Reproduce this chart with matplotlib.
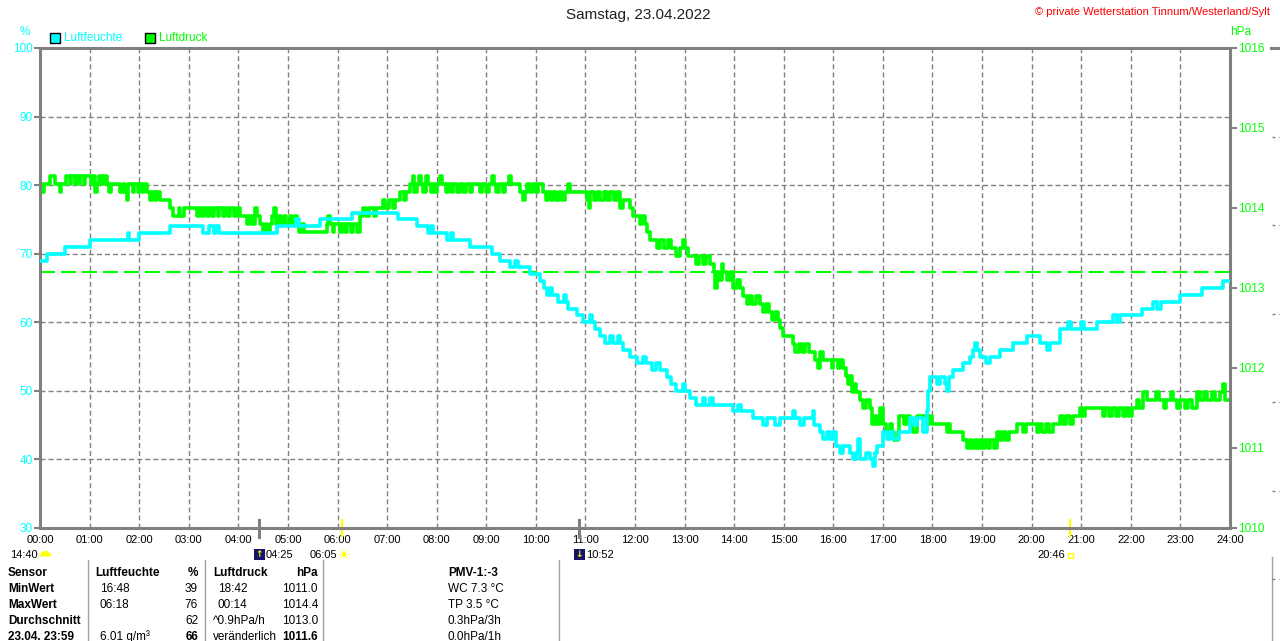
import matplotlib
matplotlib.use("Agg")
import matplotlib.pyplot as plt
import matplotlib.transforms as mtransforms
from matplotlib.lines import Line2D
from matplotlib.patches import Rectangle

plt.rcParams['font.family'] = ['Liberation Sans', 'DejaVu Sans']
plt.rcParams['lines.scale_dashes'] = False

CYAN = '#00FFFF'
GREEN = '#00FF00'
GRAY = '#808080'
YELLOW = '#FFFF00'
W, H = 1280, 641

# humidity (%), change points of the step line
hum_time = [
    "00:00", "00:09", "00:30",
    "01:00", "01:46", "01:48",
    "02:00", "02:37",
    "03:17", "03:25", "03:31", "03:33", "03:36",
    "04:47",
    "05:10", "05:13", "05:39",
    "06:18",
    "07:13", "07:36", "07:49", "07:53", "07:56",
    "08:12", "08:17", "08:20", "08:40",
    "09:07", "09:17", "09:29", "09:35", "09:38", "09:53",
    "10:05", "10:10", "10:13", "10:17", "10:20", "10:27", "10:34", "10:37", "10:39", "10:50", "10:57",
    "11:05", "11:08", "11:12", "11:18", "11:24", "11:30", "11:33", "11:40", "11:42", "11:46", "11:54",
    "12:02", "12:10", "12:13", "12:20", "12:26", "12:30", "12:39", "12:44", "12:50", "12:58",
    "13:01", "13:07", "13:14", "13:22", "13:25", "13:31", "13:34", "13:59",
    "14:05", "14:08", "14:23", "14:35", "14:40", "14:50", "14:55",
    "15:11", "15:14", "15:20", "15:25", "15:35", "15:37", "15:44", "15:48", "15:52", "15:56",
    "16:00", "16:03", "16:08", "16:12", "16:20", "16:24", "16:28", "16:30", "16:32", "16:40", "16:44", "16:48", "16:50", "16:53",
    "17:00", "17:05", "17:08", "17:12", "17:20", "17:33", "17:38", "17:41", "17:49", "17:53", "17:55", "17:57",
    "18:06", "18:09", "18:15", "18:17", "18:20", "18:25", "18:37", "18:45", "18:49", "18:52", "18:54", "18:58",
    "19:05", "19:10", "19:22", "19:38", "19:54",
    "20:10", "20:18", "20:22", "20:34", "20:44", "20:48",
    "21:00", "21:03", "21:19", "21:39", "21:43", "21:47",
    "22:13", "22:27", "22:32", "22:36",
    "23:00", "23:26", "23:52", "24:00",
]
hum_pct = [
    69, 70, 71,
    72, 73, 72,
    73, 74,
    73, 74, 73, 74, 73,
    74,
    75, 74, 75,
    76,
    75, 74, 73, 74, 73,
    72, 73, 72, 71,
    70, 69, 68, 69, 68, 67,
    66, 65, 64, 65, 64, 63, 64, 63, 62, 61, 60,
    61, 60, 59, 58, 57, 58, 57, 58, 57, 56, 55,
    54, 55, 54, 53, 54, 53, 52, 51, 50, 51,
    50, 49, 48, 49, 48, 49, 48, 47,
    48, 47, 46, 45, 46, 45, 46,
    47, 46, 45, 46, 47, 45, 44, 43, 44, 43,
    44, 42, 41, 42, 41, 40, 41, 43, 40, 41, 40, 39, 41, 42,
    44, 43, 44, 43, 44, 46, 45, 46, 44, 47, 50, 52,
    51, 52, 51, 50, 52, 53, 54, 55, 56, 57, 56, 55,
    54, 55, 56, 57, 58,
    57, 56, 57, 59, 60, 59,
    60, 59, 60, 61, 60, 61,
    62, 63, 62, 63,
    64, 65, 66, 66,
]

# air pressure (hPa), change points of the step line
pres_time = [
    "00:00", "00:03", "00:05", "00:12", "00:18", "00:24", "00:26", "00:32", "00:36", "00:38", "00:42", "00:44", "00:47", "00:49", "00:53", "00:55",
    "01:02", "01:04", "01:07", "01:09", "01:11", "01:15", "01:17", "01:21", "01:23", "01:26", "01:37", "01:41", "01:43", "01:45", "01:47", "01:52", "01:54", "01:58",
    "02:00", "02:04", "02:06", "02:09", "02:13", "02:15", "02:19", "02:21", "02:25", "02:37", "02:41", "02:48", "02:50", "02:54",
    "03:10", "03:12", "03:16", "03:18", "03:22", "03:24", "03:28", "03:31", "03:35", "03:37", "03:41", "03:44", "03:48", "03:50", "03:55", "03:58",
    "04:02", "04:10", "04:13", "04:17", "04:20", "04:22", "04:26", "04:30", "04:33", "04:35", "04:38", "04:41", "04:43", "04:45", "04:49", "04:52", "04:55", "04:58",
    "05:02", "05:05", "05:08", "05:11", "05:14", "05:17", "05:20", "05:47", "05:49", "05:51", "05:54", "05:56",
    "06:03", "06:06", "06:09", "06:12", "06:16", "06:19", "06:23", "06:27", "06:31", "06:35", "06:38", "06:44", "06:46", "06:55", "06:58",
    "07:02", "07:07", "07:10", "07:16", "07:20", "07:23", "07:28", "07:31", "07:33", "07:36", "07:39", "07:41", "07:44", "07:47", "07:50", "07:53", "07:56", "07:58",
    "08:01", "08:04", "08:06", "08:11", "08:14", "08:17", "08:20", "08:24", "08:28", "08:32", "08:35", "08:40", "08:43", "08:52", "08:55",
    "09:00", "09:03", "09:07", "09:09", "09:12", "09:15", "09:20", "09:23", "09:28", "09:30", "09:41", "09:44", "09:47", "09:49", "09:53", "09:56",
    "10:00", "10:03", "10:09", "10:12", "10:15", "10:18", "10:21", "10:25", "10:28", "10:32", "10:35", "10:39", "10:41",
    "11:02", "11:04", "11:06", "11:10", "11:14", "11:18", "11:22", "11:26", "11:30", "11:34", "11:38", "11:42", "11:45", "11:54", "11:58",
    "12:06", "12:09", "12:12", "12:14", "12:18", "12:27", "12:30", "12:35", "12:40", "12:44", "12:50", "12:54", "12:58",
    "13:01", "13:04", "13:14", "13:18", "13:22", "13:26", "13:31", "13:35", "13:37", "13:39", "13:42", "13:45", "13:47", "13:51", "13:55", "13:58",
    "14:04", "14:07", "14:11", "14:15", "14:18", "14:22", "14:26", "14:31", "14:35", "14:38", "14:42", "14:46", "14:49", "14:53", "14:56", "14:59",
    "15:11", "15:14", "15:18", "15:22", "15:26", "15:30", "15:38", "15:41", "15:44", "15:47", "15:58",
    "16:00", "16:06", "16:08", "16:12", "16:15", "16:18", "16:20", "16:23", "16:25", "16:28", "16:32", "16:36", "16:39", "16:44", "16:47", "16:50", "16:53", "16:56",
    "17:00", "17:04", "17:08", "17:11", "17:14", "17:18", "17:20", "17:25", "17:29", "17:33", "17:37", "17:41", "17:53", "17:56",
    "18:00", "18:17", "18:19", "18:21", "18:37", "18:42", "18:45", "18:48", "18:51", "18:54", "18:57",
    "19:00", "19:04", "19:07", "19:10", "19:14", "19:18", "19:22", "19:25", "19:29", "19:33", "19:42", "19:50", "19:53",
    "20:06", "20:09", "20:13", "20:17", "20:21", "20:26", "20:34", "20:38", "20:42", "20:46", "20:50", "20:58",
    "21:01", "21:04", "21:26", "21:29", "21:34", "21:37", "21:42", "21:46", "21:50", "21:54", "21:58",
    "22:02", "22:07", "22:10", "22:15", "22:19", "22:31", "22:34", "22:40", "22:43", "22:48", "22:51", "22:56",
    "23:00", "23:05", "23:09", "23:14", "23:20", "23:24", "23:28", "23:32", "23:38", "23:42", "23:48", "23:52", "23:54", "24:00",
]
pres_hpa = [
    1014.3, 1014.2, 1014.3, 1014.4, 1014.3, 1014.2, 1014.3, 1014.4, 1014.3, 1014.4, 1014.3, 1014.4, 1014.3, 1014.4, 1014.3, 1014.4,
    1014.3, 1014.4, 1014.2, 1014.3, 1014.4, 1014.3, 1014.4, 1014.3, 1014.2, 1014.3, 1014.2, 1014.3, 1014.2, 1014.1, 1014.3, 1014.2, 1014.3, 1014.2,
    1014.3, 1014.2, 1014.3, 1014.2, 1014.1, 1014.2, 1014.1, 1014.2, 1014.1, 1014.0, 1013.9, 1014.0, 1013.9, 1014.0,
    1013.9, 1014.0, 1013.9, 1014.0, 1013.9, 1014.0, 1013.9, 1014.0, 1013.9, 1014.0, 1013.9, 1014.0, 1013.9, 1014.0, 1013.9, 1014.0,
    1013.9, 1013.8, 1013.9, 1013.8, 1014.0, 1013.9, 1013.8, 1013.7, 1013.8, 1013.7, 1013.8, 1013.9, 1014.0, 1013.8, 1013.9, 1013.8, 1013.9, 1013.8,
    1013.9, 1013.8, 1013.9, 1013.8, 1013.7, 1013.8, 1013.7, 1013.8, 1013.9, 1013.8, 1013.7, 1013.8,
    1013.7, 1013.8, 1013.7, 1013.8, 1013.7, 1013.8, 1013.7, 1013.9, 1014.0, 1013.9, 1014.0, 1013.9, 1014.0, 1014.1, 1014.0,
    1014.1, 1014.0, 1014.1, 1014.2, 1014.1, 1014.2, 1014.3, 1014.4, 1014.2, 1014.3, 1014.4, 1014.3, 1014.2, 1014.4, 1014.3, 1014.2, 1014.3, 1014.2,
    1014.3, 1014.4, 1014.3, 1014.2, 1014.3, 1014.2, 1014.3, 1014.2, 1014.3, 1014.2, 1014.3, 1014.2, 1014.3, 1014.2, 1014.3,
    1014.2, 1014.3, 1014.4, 1014.3, 1014.2, 1014.3, 1014.2, 1014.3, 1014.4, 1014.3, 1014.2, 1014.1, 1014.2, 1014.3, 1014.2, 1014.3,
    1014.2, 1014.3, 1014.2, 1014.1, 1014.2, 1014.1, 1014.2, 1014.1, 1014.2, 1014.1, 1014.2, 1014.3, 1014.2,
    1014.1, 1014.0, 1014.2, 1014.1, 1014.2, 1014.1, 1014.2, 1014.1, 1014.2, 1014.1, 1014.2, 1014.0, 1014.1, 1014.0, 1013.9,
    1013.8, 1013.9, 1013.8, 1013.7, 1013.6, 1013.5, 1013.6, 1013.5, 1013.6, 1013.5, 1013.4, 1013.5, 1013.6,
    1013.5, 1013.4, 1013.3, 1013.4, 1013.3, 1013.4, 1013.3, 1013.2, 1013.0, 1013.2, 1013.1, 1013.3, 1013.2, 1013.1, 1013.2, 1013.0,
    1013.1, 1013.0, 1012.9, 1012.8, 1012.9, 1012.8, 1012.9, 1012.8, 1012.7, 1012.8, 1012.7, 1012.6, 1012.7, 1012.6, 1012.5, 1012.4,
    1012.3, 1012.2, 1012.3, 1012.2, 1012.3, 1012.2, 1012.1, 1012.0, 1012.2, 1012.1, 1012.0,
    1012.1, 1012.0, 1012.1, 1012.0, 1011.9, 1011.8, 1011.9, 1011.7, 1011.8, 1011.7, 1011.6, 1011.5, 1011.6, 1011.5, 1011.3, 1011.4, 1011.3, 1011.5,
    1011.3, 1011.2, 1011.3, 1011.2, 1011.1, 1011.2, 1011.4, 1011.3, 1011.4, 1011.3, 1011.2, 1011.4, 1011.3, 1011.4,
    1011.3, 1011.2, 1011.3, 1011.2, 1011.1, 1011.0, 1011.1, 1011.0, 1011.1, 1011.0, 1011.1,
    1011.0, 1011.1, 1011.0, 1011.1, 1011.0, 1011.2, 1011.1, 1011.2, 1011.1, 1011.2, 1011.3, 1011.2, 1011.3,
    1011.2, 1011.3, 1011.2, 1011.3, 1011.2, 1011.3, 1011.4, 1011.3, 1011.4, 1011.3, 1011.4, 1011.5,
    1011.4, 1011.5, 1011.4, 1011.5, 1011.4, 1011.5, 1011.4, 1011.5, 1011.4, 1011.5, 1011.4,
    1011.5, 1011.6, 1011.5, 1011.7, 1011.6, 1011.7, 1011.6, 1011.5, 1011.6, 1011.7, 1011.6, 1011.5,
    1011.6, 1011.5, 1011.6, 1011.5, 1011.7, 1011.6, 1011.7, 1011.6, 1011.7, 1011.6, 1011.7, 1011.8, 1011.6, 1011.6,
]
assert len(hum_time) == len(hum_pct)
assert len(pres_time) == len(pres_hpa)

pres_ref = 1013.2          # dashed green reference line
hum_ticks = list(range(30, 101, 10))
pres_ticks = list(range(1010, 1017))
hour_labels = [f"{h:02d}:00" for h in range(25)]

sun_events = ["06:05", "20:46"]      # sunrise, sunset
moon_events = ["04:25", "10:52"]     # moonrise, moonset
moon_prev = "14:40"

table_rows = ["Sensor", "MinWert", "MaxWert", "Durchschnitt", "23.04. 23:59"]
hum_col_a = ["Luftfeuchte", "16:48", "06:18", "", "6.01 g/m³"]
hum_col_b = ["%", "39", "76", "62", "66"]
pres_col_a = ["Luftdruck", "18:42", "00:14", "^0.9hPa/h", "veränderlich"]
pres_col_b = ["hPa", "1011.0", "1014.4", "1013.0", "1011.6"]
extra_col = ["PMV-1:-3", "WC 7.3 °C", "TP 3.5 °C", "0.3hPa/3h", "0.0hPa/1h"]


def to_hours(t):
    h, m = t.split(":")
    return int(h) + int(m) / 60


def fx(x):
    return x / W


def fy(y):
    return 1 - y / H


fig = plt.figure(figsize=(12.8, 6.41), dpi=100)
fig.patch.set_facecolor('white')
ax = fig.add_axes([fx(40), fy(528), 1190 / W, 480 / H])
ax2 = ax.twinx()
ax.set_zorder(2)
ax2.set_zorder(1)
ax.patch.set_visible(False)
ax2.patch.set_visible(True)
ax2.patch.set_facecolor('white')

ax.set_xlim(0, 24)
ax.set_ylim(30, 100)
ax2.set_ylim(1010, 1016)

# grid lives on the lower axes so both curves stay on top of it
grid_kw = dict(color=GRAY, linewidth=1, linestyle=(0, (3.6, 2.2)))
ax2.xaxis.set_visible(True)
ax2.tick_params(axis='x', bottom=False, top=False, labelbottom=False, labeltop=False)
ax2.set_xticks(range(25))
ax2.grid(axis='x', **grid_kw)
ax2.set_yticks([1010 + (h - 30) * 6 / 70 for h in hum_ticks[1:-1]], minor=True)
ax2.tick_params(axis='y', which='minor', length=0)
ax2.grid(axis='y', which='minor', **grid_kw)

ax2.axhline(pres_ref, color=GREEN, linewidth=1.5, linestyle=(0, (10.8, 4.3)), zorder=3)
ax2.plot([to_hours(t) for t in pres_time], pres_hpa, drawstyle='steps-post',
         color=GREEN, linewidth=2.6, zorder=4)
ax.plot([to_hours(t) for t in hum_time], hum_pct, drawstyle='steps-post',
        color=CYAN, linewidth=2.6, zorder=4)

ax.set_xticks(range(25))
ax.set_xticklabels(hour_labels)
ax.tick_params(axis='x', length=0, pad=5, labelsize=8, labelcolor='black')
ax.set_yticks(hum_ticks)
ax.tick_params(axis='y', color=GRAY, labelcolor=CYAN, length=4, width=1.5,
               labelsize=8.5, pad=1)
ax2.set_yticks(pres_ticks)
ax2.tick_params(axis='y', which='major', color=GRAY, labelcolor=GREEN, length=5,
                width=1.5, labelsize=8.5, pad=1)

for s in ax.spines.values():
    s.set_color(GRAY)
    s.set_linewidth(2.2)
for s in ax2.spines.values():
    s.set_visible(False)

# ---- sun / moon events under the time axis
xt = ax.get_xaxis_transform()
ident = mtransforms.IdentityTransform()


def event_px(t):
    # display x of an event time, through the axes' own scale
    return ax.transData.transform((to_hours(t), 30))[0]


y_lab = H - 555   # display y (from bottom) of the event labels
for t in moon_events:
    x = to_hours(t)
    ax.add_line(Line2D([x, x], [0.017, -0.019], transform=xt, color=GRAY,
                       linewidth=2.2, clip_on=False))
    px = event_px(t)
    fig.add_artist(Rectangle((px - 5, y_lab - 5), 11, 11, transform=ident,
                             facecolor='#14146E', edgecolor='none'))
    fig.text(px + 0.5, y_lab + 0.5, "↑" if t == moon_events[0] else "↓",
             transform=ident, ha='center', va='center', fontsize=6.5,
             color=YELLOW, fontweight='bold', family='DejaVu Sans')
    fig.text(px + 7, y_lab, t, transform=ident, ha='left', va='center',
             fontsize=8, color='black')
for t in sun_events:
    x = to_hours(t)
    ax.add_line(Line2D([x, x], [0.017, -0.017], transform=xt, color=YELLOW,
                       linewidth=1.6, clip_on=False))
    px = event_px(t)
    fig.text(px - 4, y_lab, t, transform=ident, ha='right', va='center',
             fontsize=8, color='black')
    if t == sun_events[0]:
        fig.text(px + 2, y_lab, "☀", transform=ident, ha='center', va='center',
                 fontsize=11, color=YELLOW, family='DejaVu Sans')
    else:
        fig.add_artist(Rectangle((px - 2, y_lab - 3), 5, 5, transform=ident,
                                 facecolor='none', edgecolor=YELLOW, linewidth=1))
fig.text(fx(10), fy(555), moon_prev, ha='left', va='center', fontsize=8, color='black')
fig.add_artist(Line2D([fx(45)], [fy(556)], marker='o', markersize=8, fillstyle='top',
                      markerfacecolor=YELLOW, markerfacecoloralt='none',
                      markeredgecolor='none', linestyle='none'))

# ---- header texts
fig.text(fx(638), fy(15), "Samstag, 23.04.2022", ha='center', va='center',
         fontsize=11, color='#202020')
fig.text(fx(1270), fy(12), "© private Wetterstation Tinnum/Westerland/Sylt",
         ha='right', va='center', fontsize=8, color='#FF0000')
fig.text(fx(25), fy(32), "%", ha='center', va='center', fontsize=8.5, color=CYAN)
fig.text(fx(1230), fy(32), "hPa", ha='left', va='center', fontsize=8.5, color=GREEN)

# legend
for lx, col, name in [(50, CYAN, "Luftfeuchte"), (145, GREEN, "Luftdruck")]:
    fig.add_artist(Rectangle((fx(lx), fy(43)), 10 / W, 10 / H, facecolor=col,
                             edgecolor='black', linewidth=1))
    fig.text(fx(lx + 14), fy(38), name, ha='left', va='center', fontsize=8.5, color=col)

# ---- statistics table
row_y = [573, 589, 605, 621, 637]
for i, y in enumerate(row_y):
    head = i == 0
    last = i == len(row_y) - 1
    fig.text(fx(8), fy(y), table_rows[i], ha='left', va='center', fontsize=8.5,
             fontweight='bold')
    fig.text(fx(95 if head else 100), fy(y), hum_col_a[i], ha='left', va='center',
             fontsize=8.5, fontweight='bold' if head else 'normal')
    fig.text(fx(198), fy(y), hum_col_b[i], ha='right', va='center', fontsize=8.5,
             fontweight='bold' if head or last else 'normal')
    fig.text(fx(218 if i in (1, 2) else 213), fy(y), pres_col_a[i], ha='left',
             va='center', fontsize=8.5, fontweight='bold' if head else 'normal')
    fig.text(fx(318), fy(y), pres_col_b[i], ha='right', va='center', fontsize=8.5,
             fontweight='bold' if head or last else 'normal')
    fig.text(fx(448), fy(y), extra_col[i], ha='left', va='center', fontsize=8.5,
             fontweight='bold' if head else 'normal')
for sx in [88, 205, 323, 559]:
    fig.add_artist(Line2D([fx(sx), fx(sx)], [fy(560), fy(641)], color='#A0A0A0',
                          linewidth=1))

# ---- clipped edge of the neighbouring panel on the far right
fig.add_artist(Line2D([fx(1271), fx(1280)], [fy(48), fy(48)], color=GRAY, linewidth=2.2))
fig.add_artist(Line2D([fx(1272), fx(1272)], [fy(557), fy(641)], color='#A0A0A0',
                      linewidth=1))
for gy in [137, 225, 314, 402, 491, 579]:
    fig.add_artist(Line2D([fx(1272), fx(1280)], [fy(gy), fy(gy)], color=GRAY,
                          linewidth=1, linestyle=(0, (2, 3))))

plt.savefig("out.png", dpi=100)
